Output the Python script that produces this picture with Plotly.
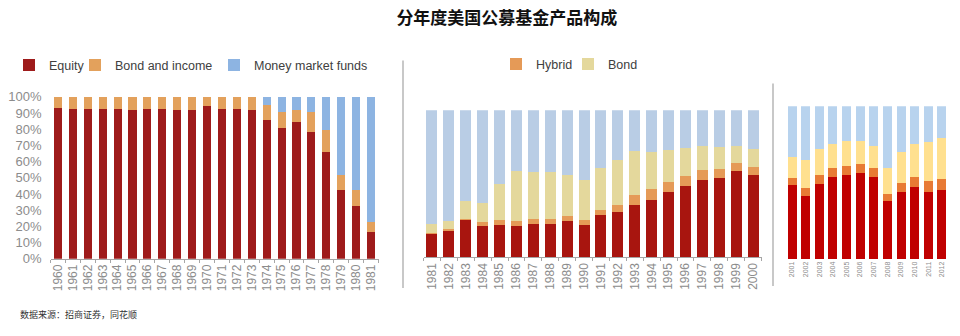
import plotly.graph_objects as go

W, H = 960, 336

# ---------------- data ----------------
years1 = [str(y) for y in range(1960, 1982)]
equity1 = [93.1, 92.7, 92.7, 92.7, 92.7, 92.0, 92.7, 92.2, 91.6, 91.8, 94.1, 92.7,
           92.5, 91.6, 85.5, 81.0, 84.5, 78.0, 65.9, 42.4, 32.5, 16.7]
bond1 = [6.9, 7.3, 7.3, 7.3, 7.3, 8.0, 7.3, 7.8, 8.4, 8.2, 5.9, 7.3,
         7.5, 8.4, 9.2, 9.8, 7.3, 12.8, 13.9, 9.6, 10.2, 5.8]
money1 = [0, 0, 0, 0, 0, 0, 0, 0, 0, 0, 0, 0,
          0, 0, 5.3, 9.2, 8.2, 9.2, 20.2, 48.0, 57.3, 77.5]

years2 = [str(y) for y in range(1981, 2001)]
equity2 = [16.3, 17.8, 25.7, 21.1, 22.2, 21.1, 22.4, 22.8, 24.6, 22.2,
           28.5, 30.9, 35.4, 39.1, 44.1, 48.7, 52.6, 53.7, 58.7, 56.1]
hybrid2 = [0.5, 1.1, 0.6, 2.8, 3.2, 3.5, 3.5, 3.1, 3.2, 3.0,
           3.5, 4.5, 6.8, 7.2, 7.0, 6.7, 7.0, 6.5, 5.4, 5.2]
bond2 = [5.6, 6.1, 11.7, 12.8, 24.6, 34.1, 32.4, 32.4, 28.1, 27.6,
         28.9, 30.9, 30.2, 25.0, 21.7, 18.9, 16.1, 14.8, 11.8, 12.2]
money2 = [77.6, 75.0, 62.0, 63.3, 50.0, 41.3, 41.7, 41.7, 44.1, 47.2,
          39.1, 33.7, 27.6, 28.7, 27.2, 25.7, 24.3, 25.0, 24.1, 26.5]

years3 = [str(y) for y in range(2001, 2013)]
equity3 = [48.3, 41.5, 49.2, 53.8, 55.2, 56.3, 53.8, 37.9, 44.2, 47.3, 44.2, 45.0]
hybrid3 = [5.0, 4.8, 5.8, 6.0, 6.1, 6.2, 5.8, 5.0, 5.4, 6.2, 7.1, 7.5]
bond3 = [13.4, 18.3, 16.9, 15.6, 15.8, 15.0, 14.4, 16.7, 20.4, 21.9, 25.2, 26.7]
money3 = [33.3, 35.4, 28.1, 24.6, 22.9, 22.5, 26.0, 40.4, 30.0, 24.6, 23.5, 20.8]

y_ticks = [0, 10, 20, 30, 40, 50, 60, 70, 80, 90, 100]
y_ticklabels = [f"{v}%" for v in y_ticks]

title_text = "分年度美国公募基金产品构成"
source_text = "数据来源：招商证券，同花顺"

# ---------------- helpers ----------------
def px_x(p):
    return p / W

def px_y(p):
    return 1 - p / H

FONT = "Liberation Sans, Arial, sans-serif"
GREY = "#8c8c8c"
LEG_FONT = dict(family=FONT, size=12.5, color="#404040")

fig = go.Figure()

# Panel 1
c1 = {"eq": "#9E1B1B", "bd": "#E3A15C", "mm": "#8DB4E2"}
for name, vals, col, leg in [("Equity", equity1, c1["eq"], "legend"),
                             ("Bond and income", bond1, c1["bd"], "legend3"),
                             ("Money market funds", money1, c1["mm"], "legend4")]:
    fig.add_trace(go.Bar(x=years1, y=vals, name=name, marker_color=col,
                         marker_line_width=0, width=0.54,
                         xaxis="x", yaxis="y", legend=leg))

# Panel 2
c2 = {"eq": "#A8150F", "hy": "#E59A57", "bd": "#E4D89C", "mm": "#B9CDE5"}
for name, vals, col, show, leg in [("Equity", equity2, c2["eq"], False, "legend"),
                                   ("Hybrid", hybrid2, c2["hy"], True, "legend2"),
                                   ("Bond", bond2, c2["bd"], True, "legend5"),
                                   ("Money market", money2, c2["mm"], False, "legend")]:
    fig.add_trace(go.Bar(x=years2, y=vals, name=name, marker_color=col,
                         marker_line_width=0, width=0.65, showlegend=show,
                         xaxis="x2", yaxis="y2", legend=leg))

# Panel 3
c3 = {"eq": "#C00000", "hy": "#E87A34", "bd": "#FFE08F", "mm": "#B8D3EE"}
for name, vals, col in [("Equity", equity3, c3["eq"]),
                        ("Hybrid", hybrid3, c3["hy"]),
                        ("Bond", bond3, c3["bd"]),
                        ("Money market", money3, c3["mm"])]:
    fig.add_trace(go.Bar(x=years3, y=vals, name=name, marker_color=col,
                         marker_line_width=0, width=0.66, showlegend=False,
                         xaxis="x3", yaxis="y3"))

xcommon = dict(type="category", showgrid=False, zeroline=False, tickangle=-90,
               tickfont=dict(family=FONT, size=12, color=GREY),
               showline=True, linecolor="#a6a6a6", linewidth=1,
               ticks="outside", ticklen=3, tickcolor="#a6a6a6",
               tickson="boundaries", dtick=1)


def leg(x_text_px, y_px):
    return dict(orientation="h", x=px_x(x_text_px - 34), y=px_y(y_px),
                yanchor="middle", xanchor="left", font=LEG_FONT,
                bgcolor="rgba(0,0,0,0)", itemwidth=30)


fig.update_layout(
    width=W, height=H,
    margin=dict(l=0, r=0, t=0, b=0),
    paper_bgcolor="white", plot_bgcolor="white",
    barmode="stack",
    font=dict(family=FONT),
    xaxis=dict(**xcommon, domain=[px_x(50.5), px_x(378.5)], range=[-0.5, 21.5],
               anchor="y"),
    yaxis=dict(domain=[px_y(263.5), px_y(94)], range=[0, 100], tickvals=y_ticks,
               ticktext=y_ticklabels, showgrid=False, zeroline=False,
               tickfont=dict(family=FONT, size=13, color=GREY), ticks="",
               ticklabelstandoff=8, anchor="x"),
    xaxis2=dict(**xcommon, domain=[px_x(423.5), px_x(761.5)], range=[-0.5, 19.5],
                anchor="y2"),
    yaxis2=dict(domain=[px_y(262), px_y(108)], range=[0, 100], visible=False,
                anchor="x2"),
    xaxis3=dict(type="category", showgrid=False, zeroline=False, tickangle=-90,
                tickfont=dict(family=FONT, size=7, color=GREY), showline=False,
                ticks="", dtick=1, domain=[px_x(785.2), px_x(948.8)],
                range=[-0.5, 11.5], anchor="y3"),
    yaxis3=dict(domain=[px_y(264), px_y(104)], range=[0, 100], visible=False,
                anchor="x3"),
    legend=leg(43, 61),
    legend3=leg(109, 61),
    legend4=leg(248, 61),
    legend2=leg(530, 60),
    legend5=leg(602, 60),
    title=dict(text=f"<b>{title_text}</b>", x=0.528, xanchor="center",
               y=px_y(18), yanchor="middle",
               font=dict(family="Noto Sans CJK SC", size=17, color="#111111")),
    annotations=[dict(text=source_text, xref="paper", yref="paper",
                      x=px_x(18), y=px_y(322), xanchor="left", yanchor="middle",
                      showarrow=False,
                      font=dict(family="Noto Sans CJK SC", size=9, color="#333333"))],
    shapes=[
        dict(type="line", xref="paper", yref="paper", x0=px_x(403), x1=px_x(403),
             y0=px_y(56), y1=px_y(294), line=dict(color="#c8c8c8", width=2)),
        dict(type="line", xref="paper", yref="paper", x0=px_x(773), x1=px_x(773),
             y0=px_y(80), y1=px_y(292), line=dict(color="#c8c8c8", width=2)),
    ],
)

fig.write_html("out.html")
